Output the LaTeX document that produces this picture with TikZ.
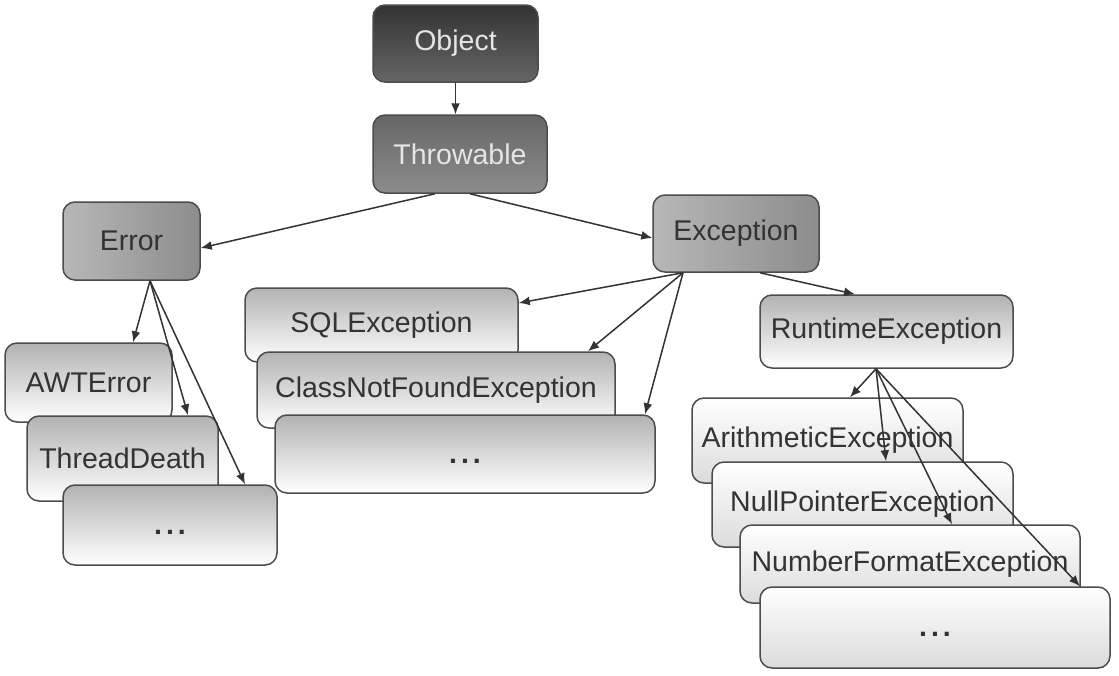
\documentclass[tikz,border=0pt]{standalone}
\usepackage{fontspec}
\setmainfont{Liberation Sans}
\usetikzlibrary{arrows.meta}
\tikzset{
  box/.style={draw=black!70,line width=1.5pt,rounded corners=12pt,inner sep=2pt,
    text=black!80,font=\fontsize{28.5}{32}\selectfont},
  topbox/.style={box,top color=black!80,bottom color=black!60,text=black!10},
  midbox/.style={box,top color=black!60,bottom color=black!45,text=black!10},
  grpbox/.style={box,left color=black!28,right color=black!45},
  kidbox/.style={box,top color=black!30,bottom color=white},
  leafbox/.style={box,top color=white,bottom color=black!14}
}
\tikzset{arr/.style={-{Latex[length=11pt,width=9pt]},black!80,line width=1.5pt}}
\newcommand{\moredots}{\raisebox{-9pt}[0pt][0pt]{\bfseries.\kern4pt.\kern4pt.}}
\begin{document}
\begin{tikzpicture}[x=1pt,y=-1pt]
\useasboundingbox[fill=white] (0,0) rectangle (1119,675);
\node[topbox,minimum width=165,minimum height=77] (obj) at (455.5,43.5) {Object};
\node[midbox,minimum width=174,minimum height=78] (thr) at (460,154) {Throwable};
\node[grpbox,minimum width=137,minimum height=78] (err) at (131.5,241) {Error};
\node[grpbox,minimum width=166,minimum height=77] (exc) at (736,233.5) {Exception};
\node[kidbox,minimum width=253,minimum height=73] (rt) at (886.5,331.5) {RuntimeException};
\node[kidbox,minimum width=167,minimum height=79] (awt) at (88.5,382.5) {AWTError};
\node[kidbox,minimum width=191,minimum height=85] (td) at (122.5,458.5) {ThreadDeath};
\node[kidbox,minimum width=214,minimum height=80] (edots) at (170,525) {\moredots};
\node[kidbox,minimum width=273,minimum height=74] (sql) at (381.5,325) {SQLException};
\node[kidbox,minimum width=358,minimum height=76] (cnf) at (436,390) {ClassNotFoundException};
\node[kidbox,minimum width=380,minimum height=78] (mdots) at (465,454) {\moredots};
\node[leafbox,minimum width=271,minimum height=85] (ari) at (827.5,440.5) {ArithmeticException};
\node[leafbox,minimum width=301,minimum height=85] (npe) at (862.5,504.5) {NullPointerException};
\node[leafbox,minimum width=340,minimum height=78] (nfe) at (910,564) {NumberFormatException};
\node[leafbox,minimum width=350,minimum height=81] (rdots) at (935,627.5) {\moredots};
\coordinate (errfoot) at ([xshift=18.5pt]err.south);
\coordinate (excfoot) at ([xshift=-53pt]exc.south);
\coordinate (rtfoot) at ([xshift=-10.5pt]rt.south);
\draw[arr] (obj.south) -- (obj.south |- thr.north);
\draw[arr] ([xshift=-25pt]thr.south) -- ([yshift=-7pt]err.east);
\draw[arr] ([xshift=10pt]thr.south) -- ([yshift=-4.5pt]exc.west);
\foreach \kid/\dx in {awt/44.5,td/65.5,edots/75}
  \draw[arr] (errfoot) -- ([xshift=\dx pt]\kid.north);
\draw[arr] (excfoot) -- ([yshift=22pt]sql.east);
\foreach \kid/\dx in {cnf/152,mdots/180}
  \draw[arr] (excfoot) -- ([xshift=\dx pt]\kid.north);
\draw[arr] ([xshift=24pt]exc.south) -- ([xshift=-31.5pt]rt.north);
\foreach \kid/\dx in {ari/22.5,npe/23.5,nfe/42,rdots/145}
  \draw[arr] (rtfoot) -- ([xshift=\dx pt]\kid.north);
\end{tikzpicture}
\end{document}
